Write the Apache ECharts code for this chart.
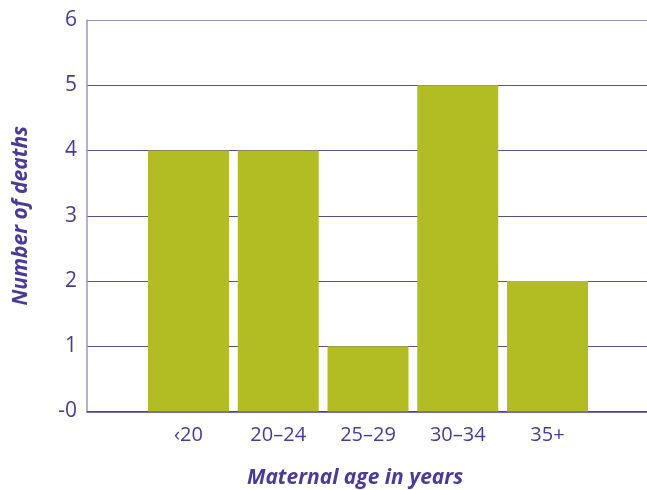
<!DOCTYPE html>
<html>
<head>
<meta charset="utf-8">
<script src="https://cdn.jsdelivr.net/npm/echarts@6/dist/echarts.min.js"></script>
<style>
  html, body { margin: 0; padding: 0; background: #fff; }
  #chart { width: 647px; height: 490px; }
</style>
</head>
<body>
<div id="chart"></div>
<script>
var ageGroups = ['‹20', '20–24', '25–29', '30–34', '35+'];
var deaths = [4, 4, 1, 5, 2];
var yTicks = [0, 1, 2, 3, 4, 5, 6];

var purple = '#4b3a96';
var fontName = 'Open Sans';

var chart = echarts.init(document.getElementById('chart'));

// grid 0 holds the bars, grid 1 the wider frame with gridlines
var option = {
    animation: false,
    textStyle: { fontFamily: fontName },
    grid: [
        { left: 143.6, right: 647 - 592.4, top: 20, bottom: 78.5, outerBoundsMode: 'none', containLabel: false },
        { left: 87, right: 0, top: 20, bottom: 78.5, outerBoundsMode: 'none', containLabel: false }
    ],
    xAxis: [
        {
            gridIndex: 0,
            type: 'category',
            data: ageGroups,
            axisLine: { show: false },
            axisTick: { show: false },
            axisLabel: { color: purple, fontSize: 20, margin: 14, fontFamily: fontName }
        },
        {
            gridIndex: 1,
            type: 'value',
            min: 0,
            max: 1,
            axisLine: { show: true, lineStyle: { color: '#4e3f98', width: 1.5 } },
            axisTick: { show: false },
            axisLabel: { show: false },
            splitLine: { show: false }
        }
    ],
    yAxis: [
        {
            gridIndex: 0,
            type: 'value',
            min: yTicks[0],
            max: yTicks[yTicks.length - 1],
            interval: 1,
            show: false
        },
        {
            gridIndex: 1,
            type: 'value',
            min: yTicks[0],
            max: yTicks[yTicks.length - 1],
            interval: 1,
            name: 'Number of deaths',
            nameLocation: 'middle',
            nameGap: 55,
            nameTextStyle: { color: purple, fontSize: 21, fontWeight: 'bold', fontStyle: 'italic', fontFamily: fontName },
            axisLine: { show: true, lineStyle: { color: '#9e92cc', width: 1.5 } },
            axisTick: { show: false },
            axisLabel: {
                color: purple,
                fontSize: 21,
                margin: 10,
                fontFamily: fontName,
                formatter: function (v) { return v === 0 ? '-0' : String(v); }
            },
            splitLine: {
                show: true,
                lineStyle: {
                    color: ['#4e3f98', '#5a4ba0', '#5a4ba0', '#5a4ba0', '#5a4ba0', '#5a4ba0', '#a396d0'],
                    width: 1.2
                }
            }
        }
    ],
    title: {
        text: 'Maternal age in years',
        left: 350,
        top: 463,
        textAlign: 'center',
        textStyle: { color: purple, fontSize: 21, fontWeight: 'bold', fontStyle: 'italic', fontFamily: fontName }
    },
    series: [
        {
            type: 'bar',
            xAxisIndex: 0,
            yAxisIndex: 0,
            data: deaths,
            barWidth: 81,
            itemStyle: { color: '#b1bd22' },
            z: 3
        }
    ]
};

chart.setOption(option);
</script>
</body>
</html>
